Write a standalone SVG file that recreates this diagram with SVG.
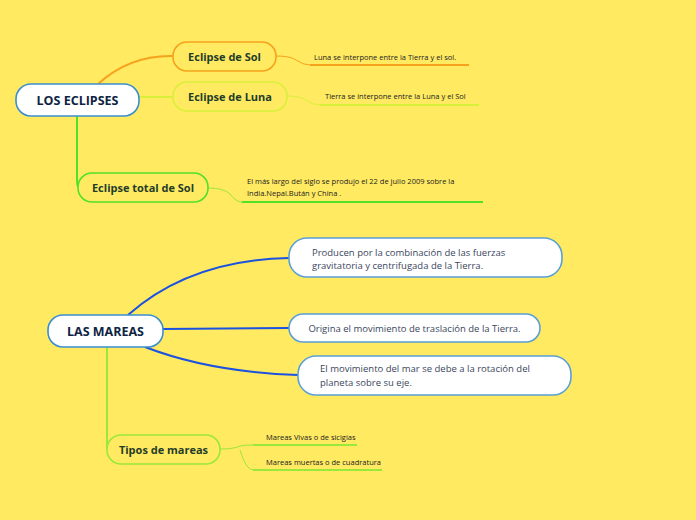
<svg xmlns="http://www.w3.org/2000/svg" width="696" height="520" viewBox="0 0 696 520">
<style>
text{font-family:"Open Sans","Noto Sans",sans-serif;fill:#1a2a3a}
.main{font-size:12.5px;font-weight:bold;fill:#0d2444}
.sub{font-size:11px;font-weight:bold;fill:#1f3d2a}
.small{font-size:7.5px;fill:#222}
.note{font-size:9.5px;fill:#3a4660}
.box{fill:#fff;stroke:#3b8fd0;stroke-width:1.6}
.nb{fill:#fff;stroke:#5aa0d6;stroke-width:1.6}
path{fill:none}
</style>
<rect width="696" height="520" fill="#ffea61"/>
<g id="connectors">
<path d="M98,84 Q130,55 173,56" stroke="#f7a21c" stroke-width="2"/>
<path d="M139,97 H173" stroke="#d8f03a" stroke-width="2"/>
<path d="M77,116 V180 Q77,188 80,188" stroke="#52e02a" stroke-width="2"/>
<path d="M276,56 Q290,56 296,60 Q303,65 310,65" stroke="#f7a21c" stroke-width="1"/>
<path d="M310,65 H469" stroke="#f7a21c" stroke-width="2"/>
<path d="M287,96 Q300,96 306,100 Q312,105 320,105" stroke="#d8f03a" stroke-width="1"/>
<path d="M320,105 H479" stroke="#d8f03a" stroke-width="2"/>
<path d="M208,188 Q224,188 230,194 Q236,202 242,202" stroke="#9ae83a" stroke-width="1"/>
<path d="M242,202 H483" stroke="#52e02a" stroke-width="2"/>
<path d="M128,315 Q190,260 289,258" stroke="#1b52e0" stroke-width="2"/>
<path d="M163,329 L289,328" stroke="#1b52e0" stroke-width="2"/>
<path d="M145,347 Q210,372 298,375" stroke="#1b52e0" stroke-width="2"/>
<path d="M107,347 V449" stroke="#9ae83a" stroke-width="2"/>
<path d="M220,449 Q234,449 240,446 Q246,445 253,445 M240,450 Q246,470 253,470" stroke="#9ae83a" stroke-width="1"/>
<path d="M253,445 H357 M253,470 H382" stroke="#9ae83a" stroke-width="2"/>
</g>
<g id="los-eclipses"><rect x="16" y="84" width="123" height="32" rx="15" class="box"/><text x="77.5" y="105" text-anchor="middle" class="main">LOS ECLIPSES</text></g>
<g id="eclipse-sol"><rect x="173" y="42" width="103" height="29" rx="14" fill="#ffea61" stroke="#f7a21c" stroke-width="1.6"/><text x="224.5" y="61" text-anchor="middle" class="sub">Eclipse de Sol</text></g>
<g id="eclipse-luna"><rect x="173" y="82" width="114" height="29" rx="14" fill="#ffea61" stroke="#d8f03a" stroke-width="1.6"/><text x="230" y="101" text-anchor="middle" class="sub">Eclipse de Luna</text></g>
<g id="eclipse-total"><rect x="78" y="173" width="130" height="29" rx="14" fill="#ffea61" stroke="#52e02a" stroke-width="1.6"/><text x="143" y="192" text-anchor="middle" class="sub">Eclipse total de Sol</text></g>
<g id="t1"><text x="314" y="60" class="small">Luna se interpone entre la Tierra y el sol.</text></g>
<g id="t2"><text x="325" y="99" class="small">Tierra se interpone entre la Luna y el Sol</text></g>
<g id="t3"><text x="247" y="184" class="small">El más largo del siglo se produjo el 22 de julio 2009 sobre la</text><text x="247" y="196" class="small">India.Nepal.Bután y China .</text></g>
<g id="las-mareas"><rect x="48" y="315" width="115" height="32" rx="15" class="box"/><text x="105.5" y="336" text-anchor="middle" class="main">LAS MAREAS</text></g>
<g id="m1"><rect x="289" y="238" width="273" height="39" rx="18" class="nb"/><text x="312" y="256" class="note">Producen por la combinación de las fuerzas</text><text x="312" y="269" class="note">gravitatoria y centrifugada de la Tierra.</text></g>
<g id="m2"><rect x="289" y="314" width="251" height="28" rx="14" class="nb"/><text x="414.5" y="332" text-anchor="middle" class="note">Origina el movimiento de traslación de la Tierra.</text></g>
<g id="m3"><rect x="298" y="356" width="273" height="39" rx="18" class="nb"/><text x="320" y="372" class="note">El movimiento del mar se debe a la rotación del</text><text x="320" y="386" class="note">planeta sobre su eje.</text></g>
<g id="tipos"><rect x="107" y="435" width="113" height="29" rx="14" fill="#ffea61" stroke="#9ae83a" stroke-width="1.6"/><text x="163.5" y="454" text-anchor="middle" class="sub">Tipos de mareas</text></g>
<g id="v1"><text x="266" y="440" class="small">Mareas Vivas o de sicigias</text></g>
<g id="v2"><text x="266" y="465" class="small">Mareas muertas o de cuadratura</text></g>
</svg>
